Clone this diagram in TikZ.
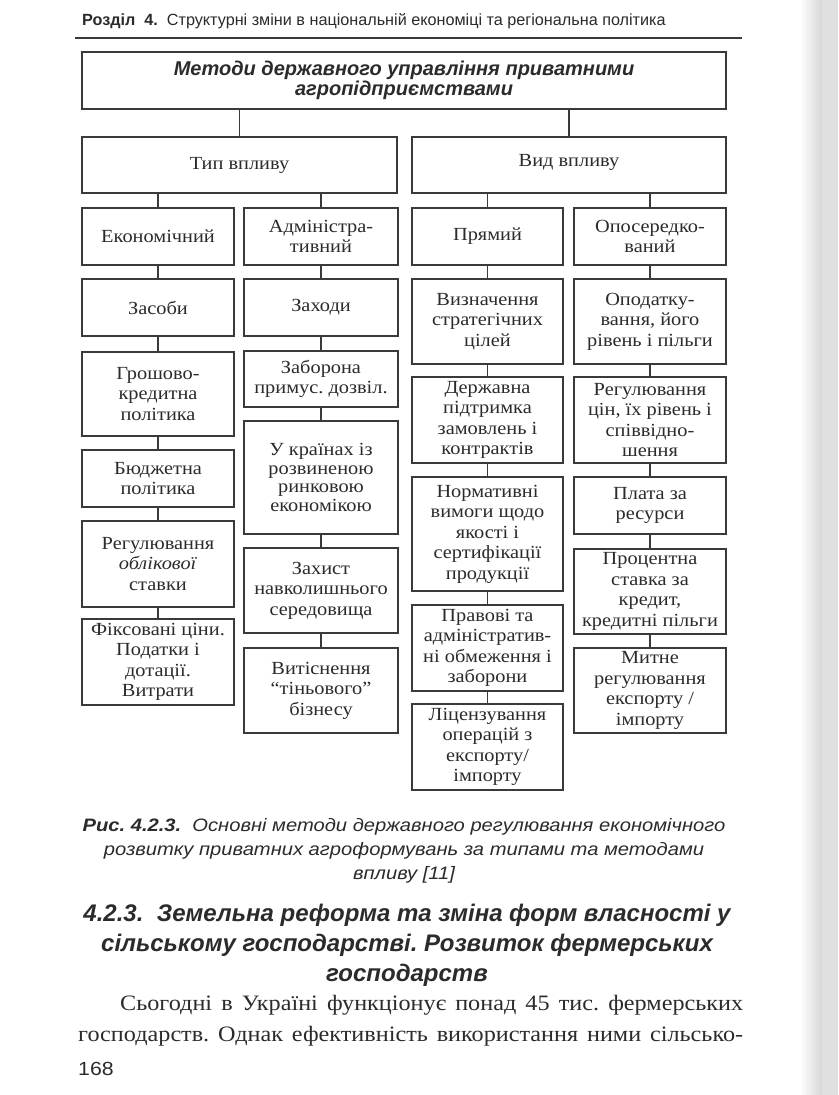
\documentclass[tikz,border=0pt]{standalone}
\usepackage{fontspec}
\setmainfont{Liberation Serif}[FakeStretch=1.1]
\newfontfamily\arialf{Liberation Sans}
\newfontfamily\arialw{Liberation Sans}[FakeStretch=1.12]
\definecolor{inkc}{HTML}{2B2B2B}
\definecolor{linec}{HTML}{3A3A3A}
\newcommand\mybox[7][]{\node[bx,#1, minimum width={(#5-#3)*1pt}, minimum height={(#6-#4)*1pt}] (#2) at ({(#3+#5)/2},{(#4+#6)/2}) {#7};}
\frenchspacing
\begin{document}
\begin{tikzpicture}[x=1pt,y=-1pt,
  bx/.style={draw=linec, line width=1.1pt, align=center, inner sep=0pt, text=inkc,
    font=\fontsize{18.5}{20.5}\selectfont},
  conn/.style={draw=linec, line width=1.1pt},
  lbl/.style={inner sep=0pt, text=inkc}]
\useasboundingbox (0,0) rectangle (838,1095);
\fill[white] (0,0) rectangle (838,1095);
\shade[left color=white, right color=black!16] (800,0) rectangle (822,1095);
\fill[black!12] (822,0) rectangle (838,1095);

% header
\node[lbl, anchor=base west, font=\arialf\fontsize{16.2}{18}\selectfont] (hdr) at (82,25)
  {\textbf{Розділ\ \ 4.}\ \ Структурні зміни в національній економіці та регіональна політика};
\coordinate (hl) at (75,38);
\coordinate (hr) at (742,38);
\draw[linec, line width=1.4pt] (hl) -- (hr);

% boxes
\mybox[font=\arialf\bfseries\itshape\fontsize{20}{20}\selectfont]{top}{82}{52}{726}{109}{Методи державного управління приватними\\ агропідприємствами}
\mybox{tip}{82}{137}{397}{193}{Тип впливу}
\mybox{vyd}{412}{137}{726}{193}{\raisebox{10pt}{Вид впливу}}

\mybox{econ}{82}{208}{234}{265}{Економічний}
\mybox{adm}{244}{208}{398}{265}{Адміністра-\\тивний}
\mybox{pryam}{412}{208}{563}{265}{Прямий}
\mybox{opos}{574}{208}{726}{265}{Опосередко-\\ваний}

\mybox{zas}{82}{279}{234}{336}{Засоби}
\mybox{zah}{244}{279}{398}{336}{Заходи}
\mybox{vyzn}{412}{279}{563}{364}{Визначення\\стратегічних\\цілей}
\mybox{opod}{574}{279}{726}{364}{Оподатку-\\вання, його\\рівень і пільги}

\mybox{grosh}{82}{352}{234}{436}{Грошово-\\кредитна\\політика}
\mybox{budg}{82}{450}{234}{507}{Бюджетна\\політика}
\mybox{reg}{82}{521}{234}{607}{Регулювання\\\textit{облікової}\\ставки}
\mybox{fiks}{82}{619}{234}{705}{Фіксовані ціни.\\Податки і\\дотації.\\Витрати}

\mybox{zab}{244}{351}{398}{407}{Заборона\\примус. дозвіл.}
\mybox[font=\fontsize{18.5}{18.8}\selectfont]{ukr}{244}{421}{398}{534}{У країнах із\\розвиненою\\ринковою\\економікою}
\mybox{zahyst}{244}{548}{398}{633}{Захист\\навколишнього\\середовища}
\mybox{vyt}{244}{648}{398}{733}{Витіснення\\“тіньового”\\бізнесу}

\mybox{derzh}{412}{377}{563}{463}{Державна\\підтримка\\замовлень і\\контрактів}
\mybox{norm}{412}{477}{563}{591}{Нормативні\\вимоги щодо\\якості і\\сертифікації\\продукції}
\mybox{prav}{412}{605}{563}{691}{Правові та\\адміністратив-\\ні обмеження і\\заборони}
\mybox{lic}{412}{704}{563}{790}{Ліцензування\\операцій з\\експорту/\\імпорту}

\mybox{regc}{574}{377}{726}{463}{Регулювання\\цін, їх рівень і\\співвідно-\\шення}
\mybox{plata}{574}{477}{726}{534}{Плата за\\ресурси}
\mybox{proc}{574}{549}{726}{634}{Процентна\\ставка за\\кредит,\\кредитні пільги}
\mybox{mytne}{574}{648}{726}{733}{Митне\\регулювання\\експорту /\\імпорту}

% connectors
\draw[conn] (tip.north) -- (tip.north |- top.south);
\draw[conn] (vyd.north) -- (vyd.north |- top.south);
\draw[conn] (econ.north) -- (econ.north |- tip.south);
\draw[conn] (adm.north) -- (adm.north |- tip.south);
\draw[conn] (pryam.north) -- (pryam.north |- vyd.south);
\draw[conn] (opos.north) -- (opos.north |- vyd.south);

\draw[conn] (econ.south) -- (zas.north);
\draw[conn] (zas.south) -- (grosh.north);
\draw[conn] (grosh.south) -- (budg.north);
\draw[conn] (budg.south) -- (reg.north);
\draw[conn] (reg.south) -- (fiks.north);

\draw[conn] (adm.south) -- (zah.north);
\draw[conn] (zah.south) -- (zab.north);
\draw[conn] (zab.south) -- (ukr.north);
\draw[conn] (ukr.south) -- (zahyst.north);
\draw[conn] (zahyst.south) -- (vyt.north);

\draw[conn] (pryam.south) -- (vyzn.north);
\draw[conn] (vyzn.south) -- (derzh.north);
\draw[conn] (derzh.south) -- (norm.north);
\draw[conn] (norm.south) -- (prav.north);
\draw[conn] (prav.south) -- (lic.north);

\draw[conn] (opos.south) -- (opod.north);
\draw[conn] (opod.south) -- (regc.north);
\draw[conn] (regc.south) -- (plata.north);
\draw[conn] (plata.south) -- (proc.north);
\draw[conn] (proc.south) -- (mytne.north);

% caption
\node[lbl, align=center, font=\arialw\itshape\fontsize{18}{24}\selectfont] (cap) at (404,851)
  {\textbf{Рис. 4.2.3.}\ \ Основні методи державного регулювання економічного\\
   розвитку приватних агроформувань за типами та методами\\
   впливу [11]};

% section heading
\node[lbl, align=center, font=\arialf\bfseries\itshape\fontsize{24}{30}\selectfont] (sec) at (407,945)
  {4.2.3.\ \ Земельна реформа та зміна форм власності у\\
   сільському господарстві. Розвиток фермерських\\
   господарств};

% body text
\node[lbl, anchor=base west, font=\fontsize{22}{31}\selectfont] (b1) at (120,1010)
  {\makebox[623pt][s]{Сьогодні в Україні функціонує понад 45 тис. фермерських}};
\node[lbl, anchor=base west, font=\fontsize{22}{31}\selectfont] (b2) at (78,1041)
  {\makebox[665pt][s]{господарств. Однак ефективність використання ними сільсько-}};

% page number
\node[lbl, anchor=base west, font=\arialw\fontsize{19}{20}\selectfont] (pg) at (78,1075) {168};
\end{tikzpicture}
\end{document}
